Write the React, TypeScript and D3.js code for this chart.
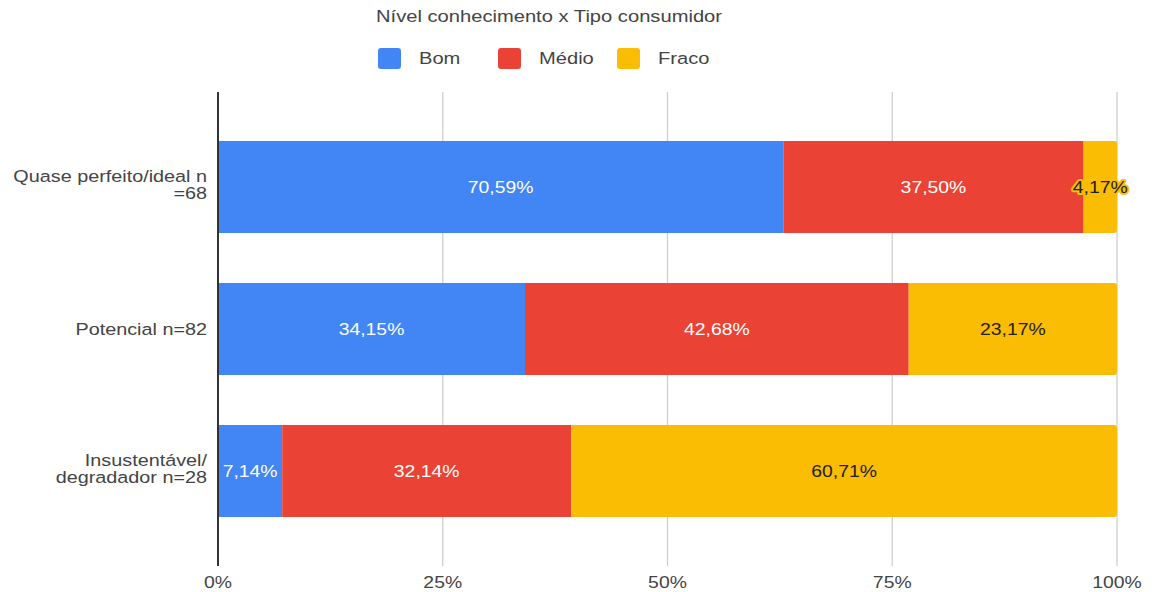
import React from "react";
import * as d3 from "d3";

const categories = ["Quase perfeito/ideal n =68", "Potencial n=82", "Insustentável/ degradador n=28"];
const categoryLines = [["Quase perfeito/ideal n", "=68"], ["Potencial n=82"], ["Insustentável/", "degradador n=28"]];
const seriesNames = ["Bom", "Médio", "Fraco"];
const bom = [70.59, 34.15, 7.14];
const medio = [37.5, 42.68, 32.14];
const fraco = [4.17, 23.17, 60.71];
const colors = ["#4285F4", "#EA4335", "#FBBC04"];
const labelColors = ["#ffffff", "#ffffff", "#222222"];
const ticks = [0, 0.25, 0.5, 0.75, 1];
const tickLabels = ["0%", "25%", "50%", "75%", "100%"];

const W = 1158, H = 592;
const FONT = "Liberation Sans, Arial, sans-serif";

function T({ x, y, sx = 1.17, children, ...rest }: any) {
  return (
    <text transform={`translate(${x},${y}) scale(${sx},1)`} {...rest}>
      {children}
    </text>
  );
}

export default function App() {
  const x = d3.scaleLinear().domain([0, 1]).range([218, 1117]);
  const y = d3.scaleBand().domain(categories).range([116, 542]).paddingInner(0.352).paddingOuter(0.176);
  const rows = categories.map((c, i) => ({ cat: c, Bom: bom[i], "Médio": medio[i], Fraco: fraco[i] }));
  const stacked = d3.stack<any>().keys(seriesNames).offset(d3.stackOffsetExpand)(rows);
  const fmt = (v: number) => v.toFixed(2).replace(".", ",") + "%";
  const legendX = [378, 498, 617];
  const vals = [bom, medio, fraco];
  const bw = y.bandwidth();
  return (
    <svg width={W} height={H} style={{ position: "absolute", left: 0, top: 0 }} fontFamily={FONT}>
      <rect width={W} height={H} fill="#fff" />
      <T x={549} y={22} sx={1.26} textAnchor="middle" fontSize={16} fill="#444">Nível conhecimento x Tipo consumidor</T>
      {seriesNames.map((s, i) => (
        <g key={s}>
          <rect x={legendX[i]} y={48} width={23} height={21} rx={3} fill={colors[i]} />
          <T x={legendX[i] + 41} y={64} sx={1.22} fontSize={16.5} fill="#444">{s}</T>
        </g>
      ))}
      {ticks.slice(1).map((t) => (
        <line key={t} x1={x(t)} x2={x(t)} y1={92} y2={566} stroke="#ccc" strokeWidth={1.2} />
      ))}
      {stacked.map((layer, si) => (
        <g key={layer.key}>
          {layer.map((d, ri) => {
            const x0 = x(d[0]), x1 = x(d[1]);
            const yy = y(categories[ri])!;
            const last = si === stacked.length - 1;
            return (
              <g key={ri}>
                {last ? (
                  <path d={`M${x0},${yy}H${x1 - 3}Q${x1},${yy} ${x1},${yy + 3}V${yy + bw - 3}Q${x1},${yy + bw} ${x1 - 3},${yy + bw}H${x0}Z`} fill={colors[si]} />
                ) : (
                  <rect x={x0} y={yy} width={x1 - x0} height={bw} fill={colors[si]} />
                )}
              </g>
            );
          })}
        </g>
      ))}
      {stacked.map((layer, si) => (
        <g key={"l" + layer.key}>
          {layer.map((d, ri) => {
            const cx = (x(d[0]) + x(d[1])) / 2;
            const cy = y(categories[ri])! + bw / 2 + 6;
            const narrow = x(d[1]) - x(d[0]) < 60;
            return (
              <g key={ri}>
                {narrow && (
                  <T x={cx} y={cy} sx={1.14} textAnchor="middle" fontSize={17} fill={colors[si]} stroke={colors[si]} strokeWidth={4} strokeLinejoin="round">{fmt(vals[si][ri])}</T>
                )}
                <T x={cx} y={cy} sx={1.14} textAnchor="middle" fontSize={17} fill={labelColors[si]}>{fmt(vals[si][ri])}</T>
              </g>
            );
          })}
        </g>
      ))}
      <line x1={218} x2={218} y1={92} y2={566} stroke="#333" strokeWidth={2} />
      {categories.map((c, i) => {
        const lines = categoryLines[i];
        const cy = y(c)! + bw / 2;
        const start = lines.length === 1 ? cy + 6 : cy - 5;
        return (
          <g key={c}>
            {lines.map((l, j) => (
              <T key={j} x={207} y={start + j * 17} sx={1.2} textAnchor="end" fontSize={16.5} fill="#444">{l}</T>
            ))}
          </g>
        );
      })}
      {ticks.map((t, i) => (
        <T key={t} x={x(t)} y={588} sx={1.14} textAnchor="middle" fontSize={17} fill="#444">{tickLabels[i]}</T>
      ))}
    </svg>
  );
}
